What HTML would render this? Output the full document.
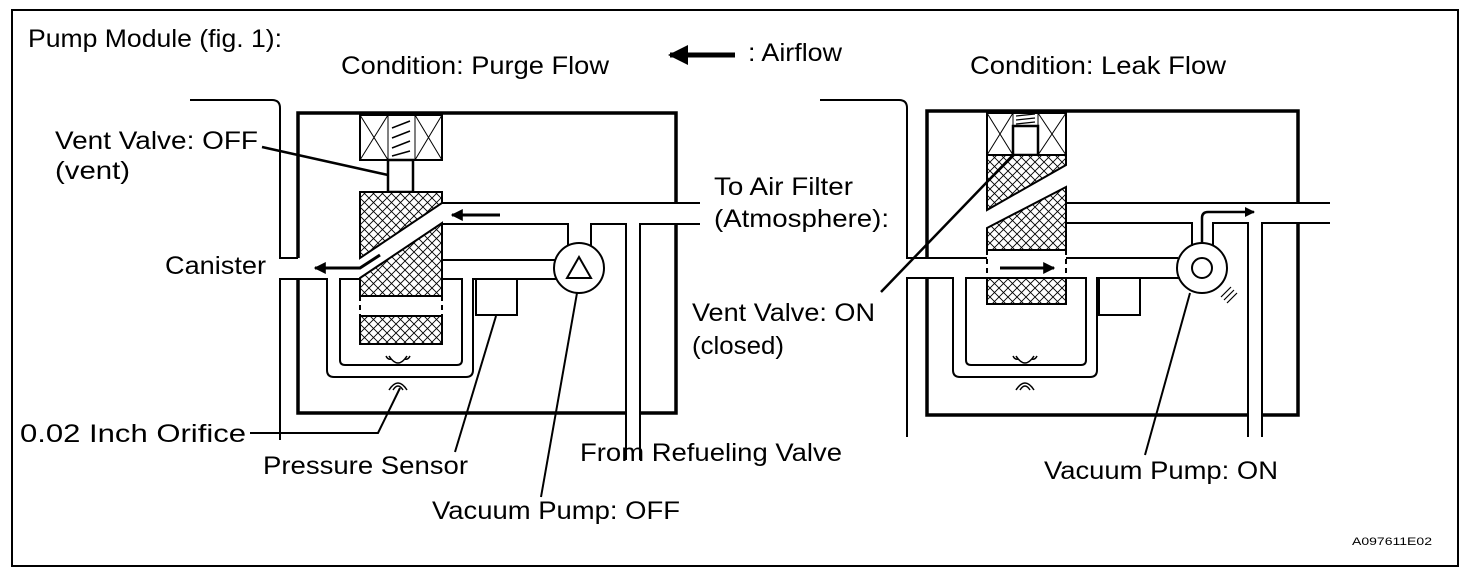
<!DOCTYPE html>
<html><head><meta charset="utf-8"><style>
html,body{margin:0;padding:0;background:#fff;}
svg{display:block;}
text{font-family:"Liberation Sans",Arial,sans-serif;font-size:25px;fill:#000;}
</style></head><body>
<svg width="1472" height="580" viewBox="0 0 1472 580" xmlns="http://www.w3.org/2000/svg">
<defs>
<pattern id="h" width="9" height="9" patternUnits="userSpaceOnUse">
<rect width="9" height="9" fill="#fff"/>
<path d="M0,0 L9,9 M9,0 L0,9" stroke="#000" stroke-width="0.9"/>
</pattern>
<marker id="ah" viewBox="0 0 10 10" refX="9" refY="5" markerWidth="4" markerHeight="4" orient="auto" markerUnits="strokeWidth">
<path d="M0,0 L10,5 L0,10 z" fill="#000"/>
</marker>
</defs>
<rect x="12" y="10" width="1446" height="556" fill="none" stroke="#000" stroke-width="2"/>

<text x="28" y="47" textLength="254" lengthAdjust="spacingAndGlyphs">Pump Module (fig. 1):</text>
<text x="341" y="74" textLength="268" lengthAdjust="spacingAndGlyphs">Condition: Purge Flow</text>
<text x="748" y="61" textLength="94" lengthAdjust="spacingAndGlyphs">: Airflow</text>
<text x="970" y="74" textLength="256" lengthAdjust="spacingAndGlyphs">Condition: Leak Flow</text>
<text x="55" y="149" textLength="203" lengthAdjust="spacingAndGlyphs">Vent Valve: OFF</text>
<text x="55" y="179" textLength="75" lengthAdjust="spacingAndGlyphs">(vent)</text>
<text x="165" y="274" textLength="101" lengthAdjust="spacingAndGlyphs">Canister</text>
<text x="714" y="195" textLength="139" lengthAdjust="spacingAndGlyphs">To Air Filter</text>
<text x="714" y="227" textLength="175" lengthAdjust="spacingAndGlyphs">(Atmosphere):</text>
<text x="692" y="321" textLength="183" lengthAdjust="spacingAndGlyphs">Vent Valve: ON</text>
<text x="692" y="354" textLength="92" lengthAdjust="spacingAndGlyphs">(closed)</text>
<text x="20" y="442" textLength="226" lengthAdjust="spacingAndGlyphs">0.02 Inch Orifice</text>
<text x="263" y="474" textLength="205" lengthAdjust="spacingAndGlyphs">Pressure Sensor</text>
<text x="580" y="461" textLength="262" lengthAdjust="spacingAndGlyphs">From Refueling Valve</text>
<text x="432" y="519" textLength="248" lengthAdjust="spacingAndGlyphs">Vacuum Pump: OFF</text>
<text x="1044" y="479" textLength="234" lengthAdjust="spacingAndGlyphs">Vacuum Pump: ON</text>
<text x="1352" y="545" style="font-size:11px" textLength="80" lengthAdjust="spacingAndGlyphs">A097611E02</text>

<line x1="735" y1="55" x2="670" y2="55" stroke="#000" stroke-width="5" marker-end="url(#ah)"/>

<g fill="none" stroke="#000">
<!-- LEFT -->
<path d="M676,203 V113 H298 V258 M298,279 V413 H626 M640,413 H676 V224" stroke-width="3.5"/>
<path d="M190,100 H272 Q280,100 280,108 V258 H298 M298,279 H280 V440" stroke-width="2"/>
<path d="M442,203 H700 M442,224 H568 V246 M591,246 V224 H626 V460 M640,460 V224 H700" stroke-width="2"/>
<circle cx="579" cy="268" r="25" stroke-width="2"/>
<path d="M579,257 L567,278 L591,278 Z" stroke-width="2"/>
<path d="M442,260 H555" stroke-width="2"/>
<path d="M298,279 H327 V370 Q327,377 334,377 H466 Q473,377 473,370 V279 H557" stroke-width="2"/>
<rect x="476" y="279" width="41" height="36" stroke-width="2"/>
<path d="M360,279 H340 V360 Q340,365 345,365 H457 Q462,365 462,360 V279 H442" stroke-width="2"/>
<path d="M389,356 Q398,370 407,356 M386,356 Q388,360 391,359 M410,356 Q408,360 405,359 M389,390 Q398,376 407,390 M393,390 Q398,382 403,390" stroke-width="1.5"/>
<rect x="360" y="115" width="82" height="45" stroke-width="2"/>
<path d="M388,115 V160 M415,115 V160 M360,115 L388,160 M388,115 L360,160 M415,115 L442,160 M442,115 L415,160" stroke-width="1"/>
<path d="M392,128 L410,121 M392,138 L410,131 M392,148 L410,141 M392,156 L410,151" stroke-width="1.5"/>
<rect x="388" y="160" width="25" height="32" stroke-width="2.5"/>
<polygon points="360,192 442,192 442,203 360,258" fill="url(#h)" stroke-width="2"/>
<polygon points="360,278 442,223 442,296 360,296" fill="url(#h)" stroke-width="2"/>
<rect x="360" y="316" width="82" height="28" fill="url(#h)" stroke-width="2"/>
<path d="M360,296 V316 M442,296 V316" stroke-width="2" stroke-dasharray="5,4"/>
<path d="M380,255 L360,268 H315" stroke-width="3" marker-end="url(#ah)"/>
<line x1="500" y1="215" x2="452" y2="215" stroke-width="3" marker-end="url(#ah)"/>
<path d="M262,147 L388,175" stroke-width="2.5"/>
<path d="M250,433 H378 L400,388" stroke-width="2"/>
<path d="M455,452 L496,316" stroke-width="2"/>
<path d="M541,497 L577,293" stroke-width="2"/>

<!-- RIGHT -->
<path d="M1298,203 V111 H927 V258 M927,278 V415 H1248 M1262,415 H1298 V223" stroke-width="3.5"/>
<path d="M820,100 H899 Q907,100 907,108 V258 H987 M1066,258 H1178 M927,278 H907 V437" stroke-width="2"/>
<path d="M1066,203 H1330 M1066,223 H1192 V246 M1213,246 V223 H1248 V437 M1262,437 V223 H1330" stroke-width="2"/>
<circle cx="1202" cy="268" r="25" stroke-width="2"/>
<circle cx="1202" cy="268" r="10" stroke-width="2"/>
<path d="M1221,297 L1231,287 M1224,300 L1234,290 M1227,303 L1237,293" stroke-width="1.2"/>
<path d="M927,278 H953 V370 Q953,377 960,377 H1090 Q1097,377 1097,370 V278 H1180" stroke-width="2"/>
<rect x="1099" y="278" width="41" height="37" stroke-width="2"/>
<path d="M987,278 H966 V360 Q966,365 971,365 H1081 Q1086,365 1086,360 V278 H1066" stroke-width="2"/>
<path d="M1016,356 Q1025,370 1034,356 M1013,356 Q1015,360 1018,359 M1037,356 Q1035,360 1032,359 M1016,390 Q1025,376 1034,390 M1020,390 Q1025,382 1030,390" stroke-width="1.5"/>
<rect x="987" y="113" width="79" height="42" stroke-width="2"/>
<path d="M1013,113 V155 M1038,113 V155 M987,113 L1013,155 M1013,113 L987,155 M1038,113 L1066,155 M1066,113 L1038,155" stroke-width="1"/>
<rect x="1013" y="126" width="25" height="29" stroke-width="2.5"/>
<path d="M1016,116 L1035,114 M1016,120 L1035,118 M1016,124 L1035,122" stroke-width="1.2"/>
<polygon points="987,155 1066,155 1066,165 987,210" fill="url(#h)" stroke-width="2"/>
<polygon points="987,228 1066,187 1066,250 987,250" fill="url(#h)" stroke-width="2"/>
<rect x="987" y="278" width="79" height="26" fill="url(#h)" stroke-width="2"/>
<path d="M987,250 V278 M1066,250 V278" stroke-width="2" stroke-dasharray="5,4"/>
<line x1="1000" y1="268" x2="1054" y2="268" stroke-width="3" marker-end="url(#ah)"/>
<path d="M1202,243 V218 Q1202,212 1208,212 H1254" stroke-width="2.5" marker-end="url(#ah)"/>
<path d="M881,292 L1013,155" stroke-width="2.5"/>
<path d="M1145,455 L1190,293" stroke-width="2"/>
</g>
</svg>
</body></html>
